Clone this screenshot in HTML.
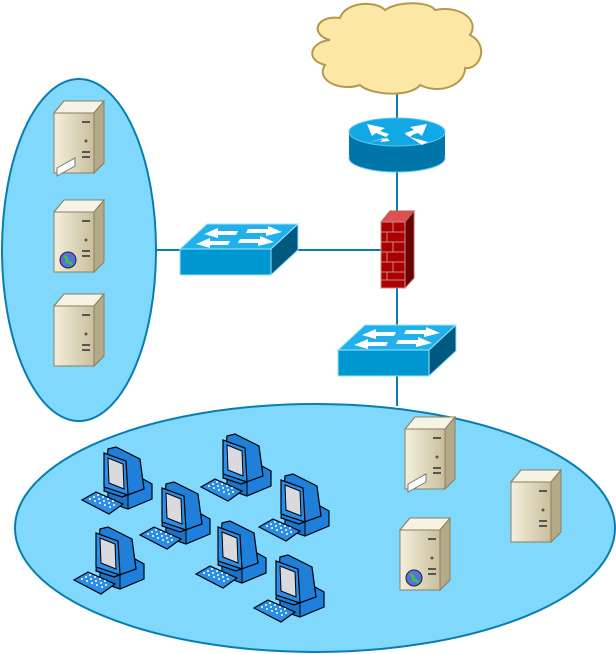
<!DOCTYPE html>
<html><head><style>html,body{margin:0;padding:0;background:#fff}svg{display:block}</style></head><body>
<svg width="616" height="654" viewBox="0 0 616 654" xmlns="http://www.w3.org/2000/svg">
<defs>
<linearGradient id="srv" x1="0" x2="1"><stop offset="0" stop-color="#f4efdc"/><stop offset="1" stop-color="#c9bf9d"/></linearGradient>
<g id="server">
<polygon points="0,12 10,0 50,0 50,62 40,72 0,72" fill="#d8cfb0" stroke="#8a8060" stroke-width="1"/>
<polygon points="0,12 10,0 50,0 40,12" fill="#f6f2e4" stroke="#8a8060" stroke-width="1"/>
<polygon points="40,12 50,0 50,62 40,72" fill="#b5aa88" stroke="#8a8060" stroke-width="1"/>
<rect x="0" y="12" width="40" height="60" fill="url(#srv)" stroke="#8a8060"/>
<rect x="28" y="20" width="8" height="2" fill="#555"/><rect x="28" y="50" width="8" height="2" fill="#555"/><rect x="28" y="55" width="8" height="2" fill="#555"/><circle cx="32" cy="40" r="1.5" fill="#555"/>
</g>
<g id="pc">
<polygon points="26,34 52,27 70,37 70,52 46,62 26,55" fill="#1e80dc" stroke="#000" stroke-width="1.2"/>
<polygon points="26,34 46,42 46,62 26,55" fill="#1a74c8" stroke="#000" stroke-width="1"/>
<polygon points="26,2 34,0 58,12 62,42 40,50 22,44" fill="#1f7fd9" stroke="#000" stroke-width="1.2"/>
<polygon points="22,6 44,14 46,48 22,40" fill="#2a8ee8" stroke="#000" stroke-width="1.2"/>
<polygon points="26,11 41,17 42,42 27,36" fill="#d9d9de" stroke="#000"/>
<polygon points="0,53 14,45 41,57 27,67" fill="#2a8ee8" stroke="#000" stroke-width="1.2"/>
<g fill="#fff"><circle cx="8" cy="52" r="1"/><circle cx="13" cy="54" r="1"/><circle cx="18" cy="56" r="1"/><circle cx="23" cy="58" r="1"/><circle cx="28" cy="60" r="1"/><circle cx="12" cy="50" r="1"/><circle cx="17" cy="52" r="1"/><circle cx="22" cy="54" r="1"/><circle cx="27" cy="56" r="1"/><circle cx="32" cy="58" r="1"/><circle cx="16" cy="48" r="1"/><circle cx="21" cy="50" r="1"/><circle cx="26" cy="52" r="1"/><circle cx="31" cy="54" r="1"/></g>
</g>
<g id="switch">
<polygon points="0,25 27,0 118,0 91,25" fill="#21b0ec" stroke="#9be3ff"/>
<rect x="0" y="25" width="91" height="26" fill="#0096cf" stroke="#9be3ff"/>
<polygon points="91,25 118,0 118,26 91,51" fill="#005a80" stroke="#9be3ff"/>
<g fill="#fff"><polygon points="16,20 30,14 30,17 50,17 48,21 30,21 30,24"/><polygon points="24,10 38,4 38,7 58,7 56,11 38,11 38,14"/><polygon points="102,6 88,0 88,3 68,3 66,7 86,7 86,10" transform="translate(0,2)"/><polygon points="94,16 80,10 80,13 60,13 58,17 78,17 78,20" transform="translate(0,2)"/></g>
</g>
</defs>
<line x1="397" y1="90" x2="397" y2="406" stroke="#0a7db0" stroke-width="2"/>
<line x1="157" y1="250" x2="385" y2="250" stroke="#0a7db0" stroke-width="2"/>
<path d="M330,40 C310,35 315,15 340,18 C345,2 375,0 385,10 C400,0 430,2 435,10 C460,5 480,20 470,35 C490,45 480,70 465,68 C465,85 440,95 420,85 C410,98 370,95 360,85 C340,92 315,80 325,65 C305,60 310,42 330,40 Z" fill="#fde7a6" stroke="#b29a4a" stroke-width="2"/>
<rect x="349" y="132" width="96" height="26" fill="#0076a8"/>
<ellipse cx="397" cy="158" rx="48" ry="14" fill="#0076a8" stroke="#5bc6f0"/>
<rect x="349.5" y="132" width="95" height="26" fill="#0076a8"/>
<ellipse cx="397" cy="132" rx="48" ry="14" fill="#12a8e6" stroke="#5bc6f0"/>
<g fill="#fff"><polygon points="367,124 385,128 380,131 389,134 386,137 376,133 372,136"/><polygon points="427,124 410,127 414,130 405,133 408,136 418,133 422,136"/><polygon points="367,143 384,138 380,142 390,141 387,138"/><polygon points="428,142 410,137 414,134 405,134 422,145"/></g>
<polygon points="381,222 390,211 414,211 405,222" fill="#e05050" stroke="#a66"/>
<polygon points="405,222 414,211 414,278 405,288" fill="#6a0000" stroke="#a66"/>
<rect x="381" y="222" width="24" height="66" fill="#aa0000" stroke="#c88"/>
<g stroke="#c88" stroke-width="1"><line x1="381" y1="232" x2="405" y2="232"/><line x1="381" y1="242" x2="405" y2="242"/><line x1="381" y1="252" x2="405" y2="252"/><line x1="381" y1="262" x2="405" y2="262"/><line x1="381" y1="272" x2="405" y2="272"/><line x1="381" y1="280" x2="405" y2="280"/><line x1="393" y1="222" x2="393" y2="232"/><line x1="387" y1="232" x2="387" y2="242"/><line x1="393" y1="242" x2="393" y2="252"/><line x1="387" y1="252" x2="387" y2="262"/><line x1="393" y1="262" x2="393" y2="272"/><line x1="387" y1="272" x2="387" y2="280"/></g>
<use href="#switch" x="180" y="224"/>
<use href="#switch" x="338" y="325"/>
<ellipse cx="79" cy="250" rx="77" ry="171" fill="#80d8fc" stroke="#0a7db0" stroke-width="2"/>
<ellipse cx="315" cy="528" rx="300" ry="124" fill="#80d8fc" stroke="#0a7db0" stroke-width="2"/>
<use href="#server" x="54" y="101"/>
<polygon points="57,168 75,158 75,166 57,176" fill="#fff" stroke="#777"/>
<use href="#server" x="54" y="200"/>
<circle cx="68" cy="260" r="8" fill="#5a6fe0" stroke="#223"/><path d="M64,256 q4,2 3,6 q4,0 5,3" stroke="#3c3" stroke-width="2.5" fill="none"/>
<use href="#server" x="54" y="294"/>
<use href="#server" x="405" y="417"/>
<polygon points="408,484 426,474 426,482 408,492" fill="#fff" stroke="#777"/>
<use href="#server" x="511" y="470"/>
<use href="#server" x="400" y="518"/>
<circle cx="414" cy="578" r="8" fill="#5a6fe0" stroke="#223"/><path d="M410,574 q4,2 3,6 q4,0 5,3" stroke="#3c3" stroke-width="2.5" fill="none"/>
<use href="#pc" x="82" y="447"/>
<use href="#pc" x="140" y="482"/>
<use href="#pc" x="201" y="434"/>
<use href="#pc" x="259" y="474"/>
<use href="#pc" x="74" y="527"/>
<use href="#pc" x="196" y="521"/>
<use href="#pc" x="254" y="555"/>
</svg>
</body></html>
